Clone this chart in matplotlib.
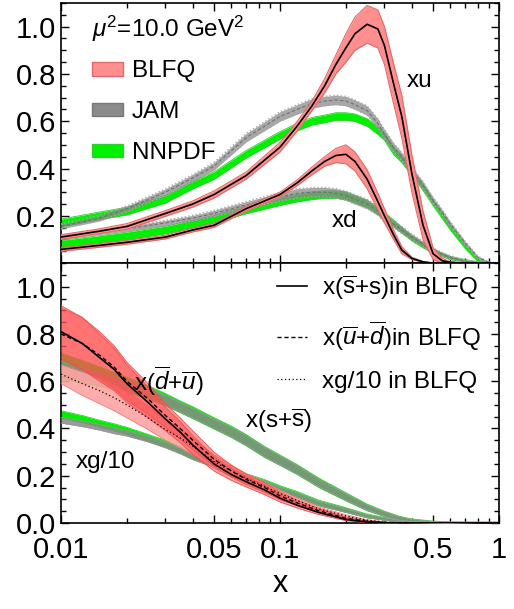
import matplotlib
matplotlib.use("Agg")
import matplotlib.pyplot as plt
import numpy as np
from matplotlib.patches import Patch
from matplotlib.lines import Line2D
from matplotlib.ticker import FixedLocator, MultipleLocator, NullFormatter

plt.rcParams["font.family"] = ["Liberation Sans", "DejaVu Sans"]
plt.rcParams["mathtext.fontset"] = "custom"
plt.rcParams["mathtext.rm"] = "Liberation Sans"
plt.rcParams["mathtext.it"] = "Liberation Sans:italic"

# ---------- top panel: valence xu, xd ----------
x_top = np.array([0.01, 0.015, 0.02, 0.03, 0.04, 0.05, 0.07, 0.1, 0.12, 0.14, 0.16, 0.18,
                  0.2, 0.22, 0.25, 0.28, 0.3, 0.33, 0.36, 0.4, 0.45, 0.5, 0.55, 0.6,
                  0.7, 0.8, 0.9, 1.0])

blfq_xu = [0.11, 0.135, 0.155, 0.21, 0.25, 0.29, 0.37, 0.49, 0.58, 0.665, 0.75, 0.84,
           0.91, 0.97, 1.01, 0.99, 0.92, 0.76, 0.62, 0.38, 0.16, 0.04, 0.01, 0.003,
           0, 0, 0, 0]
blfq_xu_err = [0.01, 0.01, 0.012, 0.012, 0.013, 0.015, 0.015, 0.02, 0.02, 0.02, 0.03, 0.04,
               0.06, 0.07, 0.08, 0.08, 0.08, 0.085, 0.09, 0.08, 0.06, 0.025, 0.01, 0.003,
               0, 0, 0, 0]
blfq_xd = [0.058, 0.075, 0.088, 0.11, 0.14, 0.16, 0.23, 0.29, 0.34, 0.39, 0.43, 0.455,
           0.46, 0.43, 0.355, 0.26, 0.2, 0.12, 0.055, 0.02, 0.005, 0, 0, 0,
           0, 0, 0, 0]
blfq_xd_err = [0.008, 0.008, 0.008, 0.008, 0.008, 0.009, 0.01, 0.01, 0.012, 0.016, 0.02, 0.03,
               0.04, 0.04, 0.04, 0.035, 0.03, 0.02, 0.015, 0.005, 0.002, 0, 0, 0,
               0, 0, 0, 0]
jam_xu = [0.155, 0.19, 0.23, 0.3, 0.36, 0.41, 0.53, 0.62, 0.65, 0.675, 0.685, 0.69,
          0.685, 0.67, 0.645, 0.59, 0.545, 0.49, 0.45, 0.39, 0.33, 0.265, 0.215, 0.165,
          0.085, 0.025, 0.003, 0]
jam_xu_err = [0.01, 0.012, 0.012, 0.014, 0.015, 0.016, 0.018, 0.02, 0.02, 0.02, 0.02, 0.02,
              0.02, 0.02, 0.02, 0.02, 0.02, 0.018, 0.018, 0.016, 0.015, 0.014, 0.012, 0.01,
              0.008, 0.005, 0.002, 0]
nnpdf_xu = [0.17, 0.2, 0.22, 0.27, 0.33, 0.37, 0.46, 0.54, 0.575, 0.6, 0.61, 0.62,
            0.62, 0.615, 0.595, 0.56, 0.535, 0.475, 0.44, 0.385, 0.32, 0.255, 0.2, 0.15,
            0.07, 0.012, 0.002, 0]
nnpdf_xu_err = [0.016, 0.016, 0.016, 0.016, 0.016, 0.016, 0.016, 0.016, 0.016, 0.016, 0.016, 0.016,
                0.016, 0.016, 0.016, 0.016, 0.016, 0.015, 0.015, 0.014, 0.013, 0.012, 0.011, 0.01,
                0.008, 0.005, 0.002, 0]
jam_xd = [0.11, 0.13, 0.145, 0.17, 0.19, 0.21, 0.245, 0.28, 0.295, 0.3, 0.3, 0.295,
          0.285, 0.27, 0.25, 0.22, 0.19, 0.165, 0.14, 0.11, 0.08, 0.055, 0.037, 0.024,
          0.008, 0.002, 0, 0]
jam_xd_err = [0.008, 0.009, 0.01, 0.011, 0.012, 0.013, 0.015, 0.018, 0.02, 0.02, 0.02, 0.02,
              0.02, 0.02, 0.02, 0.018, 0.017, 0.016, 0.015, 0.013, 0.012, 0.01, 0.008, 0.007,
              0.005, 0.003, 0.001, 0]
nnpdf_xd = [0.08, 0.1, 0.115, 0.14, 0.165, 0.185, 0.225, 0.26, 0.275, 0.285, 0.29, 0.29,
            0.285, 0.27, 0.25, 0.22, 0.2, 0.17, 0.14, 0.105, 0.075, 0.05, 0.035, 0.022,
            0.01, 0.003, 0, 0]
nnpdf_xd_err = [0.016, 0.016, 0.016, 0.016, 0.016, 0.016, 0.016, 0.016, 0.016, 0.016, 0.016, 0.016,
                0.016, 0.016, 0.016, 0.015, 0.014, 0.013, 0.012, 0.011, 0.01, 0.009, 0.008, 0.007,
                0.005, 0.003, 0.001, 0]

# ---------- bottom panel: sea quarks and gluon ----------
x_bot = np.array([0.01, 0.0125, 0.015, 0.0175, 0.02, 0.025, 0.03, 0.035, 0.04, 0.05, 0.06,
                  0.07, 0.085, 0.1, 0.12, 0.15, 0.2, 0.25, 0.3, 0.35, 0.4, 0.5, 0.6, 0.7,
                  0.8, 0.9, 1.0])

blfq_ss = [0.81, 0.76, 0.70, 0.65, 0.59, 0.51, 0.44, 0.385, 0.33, 0.25, 0.205,
           0.175, 0.14, 0.105, 0.075, 0.045, 0.015, 0.004, 0.001, 0, 0, 0, 0, 0,
           0, 0, 0]
blfq_ud = [0.80, 0.76, 0.71, 0.66, 0.60, 0.525, 0.455, 0.40, 0.35, 0.27, 0.22,
           0.185, 0.15, 0.115, 0.085, 0.052, 0.02, 0.007, 0.002, 0, 0, 0, 0, 0,
           0, 0, 0]
blfq_sea_err = [0.11, 0.11, 0.10, 0.09, 0.08, 0.065, 0.05, 0.045, 0.04, 0.03, 0.025,
                0.022, 0.02, 0.016, 0.012, 0.009, 0.005, 0.002, 0.001, 0, 0, 0, 0, 0,
                0, 0, 0]
blfq_g = [0.63, 0.59, 0.56, 0.53, 0.50, 0.445, 0.395, 0.36, 0.325, 0.26, 0.22,
          0.19, 0.155, 0.125, 0.095, 0.06, 0.03, 0.012, 0.004, 0.001, 0, 0, 0, 0,
          0, 0, 0]
blfq_g_err = [0.04, 0.05, 0.055, 0.055, 0.055, 0.05, 0.045, 0.04, 0.035, 0.028, 0.024,
              0.02, 0.017, 0.014, 0.011, 0.008, 0.005, 0.002, 0.001, 0, 0, 0, 0, 0,
              0, 0, 0]
jam_sea = [0.655, 0.63, 0.61, 0.595, 0.58, 0.55, 0.52, 0.49, 0.465, 0.42, 0.385,
           0.35, 0.30, 0.265, 0.225, 0.17, 0.11, 0.065, 0.038, 0.02, 0.01, 0.003, 0, 0,
           0, 0, 0]
jam_sea_err = [0.028, 0.026, 0.024, 0.022, 0.021, 0.02, 0.02, 0.02, 0.02, 0.02, 0.02,
               0.02, 0.02, 0.019, 0.018, 0.016, 0.014, 0.011, 0.009, 0.007, 0.005, 0.003, 0.002, 0.001,
               0, 0, 0]
nnpdf_sea = [0.665, 0.64, 0.62, 0.60, 0.585, 0.553, 0.522, 0.492, 0.467, 0.422, 0.386,
             0.351, 0.301, 0.266, 0.226, 0.171, 0.111, 0.066, 0.039, 0.021, 0.011, 0.004, 0.002, 0.001,
             0.001, 0.001, 0.001]
nnpdf_sea_err = [0.055, 0.048, 0.042, 0.036, 0.032, 0.028, 0.026, 0.025, 0.025, 0.024, 0.024,
                 0.024, 0.023, 0.022, 0.021, 0.02, 0.017, 0.014, 0.011, 0.008, 0.006, 0.004, 0.003, 0.003,
                 0.003, 0.003, 0.003]
jam_g = [0.435, 0.42, 0.405, 0.39, 0.38, 0.355, 0.33, 0.305, 0.28, 0.248, 0.218,
         0.193, 0.167, 0.142, 0.117, 0.083, 0.053, 0.029, 0.017, 0.008, 0.004, 0.001, 0, 0,
         0, 0, 0]
jam_g_err = [0.012, 0.012, 0.012, 0.012, 0.012, 0.012, 0.012, 0.012, 0.012, 0.012, 0.011,
             0.011, 0.011, 0.01, 0.01, 0.009, 0.008, 0.006, 0.005, 0.004, 0.003, 0.002, 0.001, 0,
             0, 0, 0]
nnpdf_g = [0.46, 0.44, 0.42, 0.405, 0.39, 0.36, 0.335, 0.31, 0.285, 0.25, 0.22,
           0.195, 0.17, 0.145, 0.12, 0.085, 0.055, 0.03, 0.018, 0.008, 0.004, 0.001, 0.001, 0.001,
           0.001, 0.001, 0.001]
nnpdf_g_err = [0.015, 0.015, 0.015, 0.015, 0.015, 0.015, 0.015, 0.015, 0.015, 0.015, 0.015,
               0.014, 0.014, 0.013, 0.013, 0.012, 0.01, 0.008, 0.006, 0.005, 0.004, 0.003, 0.003, 0.003,
               0.003, 0.003, 0.003]

# colours
RED_FILL = "#ff8e8e"
RED_EDGE = "#e06a6a"
RED_DARK = "#ff5050"
PINK = "#ffa3a3"
GRAY = "#8a8a8a"
GREEN = "#00f000"
GREEN_EDGE = "#33cc33"
FS = 17.5


def band(ax, x, y, err, fill, edge, alpha=1.0, z=1, lw=0.8, ls="-"):
    y = np.asarray(y)
    err = np.asarray(err)
    ax.fill_between(x, y - err, y + err, color=fill, alpha=alpha, lw=0, zorder=z)
    ax.plot(x, y - err, color=edge, lw=lw, ls=ls, zorder=z)
    ax.plot(x, y + err, color=edge, lw=lw, ls=ls, zorder=z)


def style_axis(ax):
    ax.set_xscale("log")
    ax.set_xlim(0.01, 1.0)
    ax.set_ylim(0, 1.1)
    ax.xaxis.set_major_locator(FixedLocator([0.01, 0.05, 0.1, 0.5, 1.0]))
    minors = [k * 0.01 for k in (2, 3, 4, 6, 7, 8, 9)] + [k * 0.1 for k in (2, 3, 4, 6, 7, 8, 9)]
    ax.xaxis.set_minor_locator(FixedLocator(minors))
    ax.xaxis.set_minor_formatter(NullFormatter())
    ax.yaxis.set_minor_locator(MultipleLocator(0.05))
    ax.tick_params(which="both", direction="in", top=True, right=True, labelsize=21, width=1)
    ax.tick_params(which="major", length=6)
    ax.tick_params(which="minor", length=3.5)
    for s in ax.spines.values():
        s.set_linewidth(1.2)


fig = plt.figure(figsize=(5.14, 6.09), dpi=100)
ax1 = fig.add_axes([0.1187, 0.568, 0.852, 0.4271])
ax2 = fig.add_axes([0.1187, 0.1412, 0.852, 0.4268])

# ---- top panel ----
for c, e in [(nnpdf_xu, nnpdf_xu_err), (nnpdf_xd, nnpdf_xd_err)]:
    band(ax1, x_top, c, e, GREEN, GREEN_EDGE, z=2, lw=0.6)
for c, e in [(jam_xu, jam_xu_err), (jam_xd, jam_xd_err)]:
    band(ax1, x_top, c, e, GRAY, "#aaaaaa", alpha=0.75, z=3, lw=1.0, ls=":")
    ax1.plot(x_top, c, color="#707070", lw=0.8, ls=(0, (3, 2)), zorder=3)
for c, e in [(blfq_xu, blfq_xu_err), (blfq_xd, blfq_xd_err)]:
    band(ax1, x_top, c, e, RED_FILL, RED_EDGE, z=4, lw=0.8)
    ax1.plot(x_top, c, color="black", lw=1.2, zorder=5)

ax1.text(0.436, 0.77, "xu", fontsize=FS, ha="center", va="center", zorder=10)
ax1.text(0.198, 0.18, "xd", fontsize=FS, ha="center", va="center", zorder=10)

handles = [Patch(facecolor=RED_FILL, edgecolor=RED_EDGE, lw=1),
           Patch(facecolor=GRAY, edgecolor="#777777", lw=1),
           Patch(facecolor=GREEN, edgecolor=GREEN_EDGE, lw=1)]
ax1.legend(handles, ["BLFQ", "JAM", "NNPDF"], loc="upper left",
           bbox_to_anchor=(0.0708, 0.78), frameon=False, fontsize=FS,
           handlelength=1.28, handleheight=0.5, handletextpad=0.37,
           labelspacing=0.78, borderaxespad=0, borderpad=0)
ax1.text(0.0708, 0.90, r"$\mu^2$=10.0 GeV$^2$", transform=ax1.transAxes,
         fontsize=FS, ha="left", va="center")

style_axis(ax1)
ax1.set_yticks([0.2, 0.4, 0.6, 0.8, 1.0])
ax1.set_yticklabels(["0.2", "0.4", "0.6", "0.8", "1.0"])
ax1.set_xticklabels([])

# ---- bottom panel ----
band(ax2, x_bot, nnpdf_sea, nnpdf_sea_err, GREEN, GREEN_EDGE, z=2, lw=0.6)
band(ax2, x_bot, nnpdf_g, nnpdf_g_err, GREEN, GREEN_EDGE, z=2, lw=0.6)
band(ax2, x_bot, jam_sea, jam_sea_err, GRAY, "#999999", alpha=0.85, z=3, lw=0.6)
band(ax2, x_bot, jam_g, jam_g_err, GRAY, "#999999", alpha=0.85, z=3, lw=0.6)

band(ax2, x_bot, blfq_g, blfq_g_err, PINK, "#f08080", alpha=0.9, z=4, lw=0.6)
band(ax2, x_bot, blfq_ud, blfq_sea_err, RED_DARK, "#ee5050", alpha=0.55, z=4, lw=0.6)
band(ax2, x_bot, blfq_ss, blfq_sea_err, RED_DARK, "#ee5050", alpha=0.55, z=4, lw=0.6)
ax2.plot(x_bot, blfq_ss, color="black", lw=1.2, zorder=6)
ax2.plot(x_bot, blfq_ud, color="black", lw=1.0, ls=(0, (3, 2)), zorder=6)
ax2.plot(x_bot, blfq_g, color="black", lw=0.9, ls=(0, (1, 2)), zorder=6)

ax2.text(0.0311, 0.60, r"x($\overline{d}$+$\overline{u}$)", fontsize=FS,
         ha="center", va="center", zorder=10)
ax2.text(0.099, 0.43, r"x(s+$\overline{\mathrm{s}}$)", fontsize=FS,
         ha="center", va="center", zorder=10)
ax2.text(0.0159, 0.26, "xg/10", fontsize=FS, ha="center", va="center", zorder=10)

lhandles = [Line2D([], [], color="black", lw=1.2),
            Line2D([], [], color="black", lw=1.0, ls=(0, (3, 2))),
            Line2D([], [], color="black", lw=0.9, ls=(0, (1, 2)))]
ax2.legend(lhandles, [r"x($\overline{\mathrm{s}}$+s)in BLFQ",
                      r"x($\overline{u}$+$\overline{d}$)in BLFQ",
                      "xg/10 in BLFQ"],
           loc="upper left", bbox_to_anchor=(0.493, 0.96), frameon=False, fontsize=FS,
           handlelength=1.23, handletextpad=0.62, labelspacing=0.75,
           borderaxespad=0, borderpad=0)

style_axis(ax2)
ax2.set_yticks([0.0, 0.2, 0.4, 0.6, 0.8, 1.0])
ax2.set_yticklabels(["0.0", "0.2", "0.4", "0.6", "0.8", "1.0"])
ax2.set_xticklabels(["0.01", "0.05", "0.1", "0.5", "1"])
ax2.tick_params(axis="x", pad=9)
ax2.set_xlabel("x", fontsize=22, labelpad=4)

fig.savefig("out.png", dpi=100)
